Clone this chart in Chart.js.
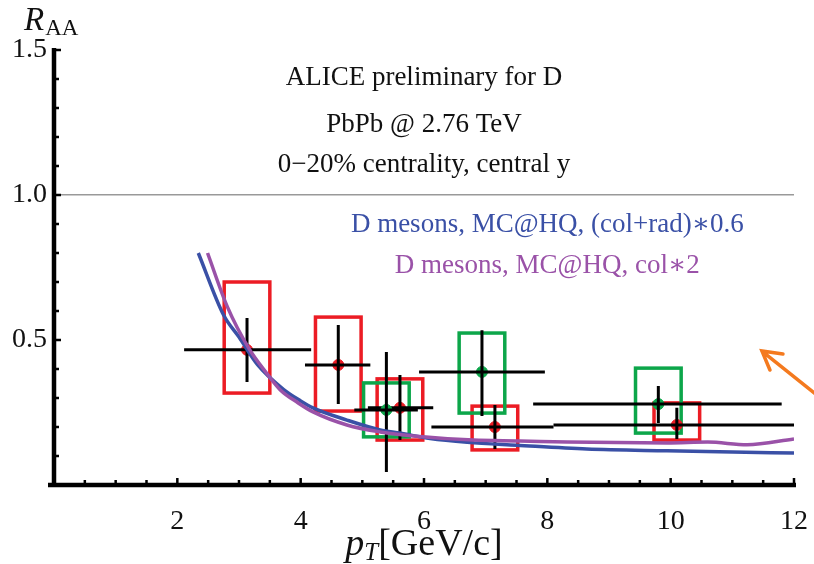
<!DOCTYPE html>
<html>
<head>
<meta charset="utf-8">
<script src="https://cdn.jsdelivr.net/npm/chart.js@4"></script>
<style>
  html, body { margin: 0; padding: 0; background: #fff; }
  #wrap { width: 814px; height: 564px; }
</style>
</head>
<body>
<div id="wrap"><canvas id="raaChart"></canvas></div>
<script>
// tick labels
const X_TICKS = [2, 4, 6, 8, 10, 12]
const Y_TICKS = [0.5, 1.0, 1.5]

// ALICE preliminary, D0 (red)
const redPt = [3.13, 4.61, 5.61, 7.15, 10.1]
const redRaa = [0.466, 0.414, 0.266, 0.200, 0.207]
const redPtLo = [2.11, 4.07, 5.09, 6.12, 8.10]
const redPtHi = [4.17, 5.13, 6.15, 8.10, 12.0]
const redStatLo = [0.355, 0.279, 0.155, 0.124, 0.159]
const redStatHi = [0.576, 0.552, 0.379, 0.276, 0.266]
const redSysLo = [0.317, 0.255, 0.155, 0.121, 0.155]
const redSysHi = [0.700, 0.579, 0.366, 0.272, 0.283]

// ALICE preliminary, D+ (green)
const greenPt = [5.39, 6.94, 9.80]
const greenRaa = [0.259, 0.390, 0.279]
const greenPtLo = [4.87, 5.92, 7.77]
const greenPtHi = [5.90, 7.96, 11.8]
const greenStatLo = [0.045, 0.238, 0.214]
const greenStatHi = [0.459, 0.534, 0.341]
const greenSysLo = [0.166, 0.248, 0.179]
const greenSysHi = [0.352, 0.524, 0.403]

// MC@HQ (col+rad)*0.6
const blueCurvePt = [2.34, 2.75, 3.0, 3.3, 3.72, 4.0, 4.2, 4.75, 5.29, 5.61, 6.1, 6.7, 7.5, 8.64, 9.94, 11.0, 12.0]
const blueCurveRaa = [0.800, 0.586, 0.510, 0.415, 0.330, 0.290, 0.266, 0.224, 0.190, 0.179, 0.160, 0.147, 0.137, 0.124, 0.118, 0.114, 0.110]

// MC@HQ col*2
const purpleCurvePt = [2.49, 2.81, 3.16, 3.45, 3.67, 3.96, 4.2, 4.75, 5.29, 5.83, 6.8, 7.56, 8.32, 9.94, 10.6, 11.24, 12.0]
const purpleCurveRaa = [0.800, 0.615, 0.471, 0.385, 0.328, 0.283, 0.252, 0.207, 0.183, 0.169, 0.155, 0.152, 0.148, 0.145, 0.148, 0.139, 0.159]

const COLORS = {
  red: '#ec1c24',
  green: '#0ca64a',
  blue: '#3a50a6',
  purple: '#9a52a8',
  black: '#000000',
  orange: '#f47a1f',
}

const SYS_HALF_WIDTH = 0.37
const SERIF = '"Liberation Serif", "DejaVu Serif", serif'

function toPoints(xs, ys) {
  return xs.map((x, i) => ({ x: x, y: ys[i] }))
}

function drawBoxes(ctx, xs, ys, pts, lo, hi, color) {
  ctx.strokeStyle = color
  pts.forEach((pt, i) => {
    const l = xs.getPixelForValue(pt - SYS_HALF_WIDTH)
    const r = xs.getPixelForValue(pt + SYS_HALF_WIDTH)
    const t = ys.getPixelForValue(hi[i])
    const b = ys.getPixelForValue(lo[i])
    ctx.strokeRect(l, t, r - l, b - t)
  })
}

function drawErrors(ctx, xs, ys, pts, raa, ptLo, ptHi, statLo, statHi) {
  ctx.strokeStyle = COLORS.black
  ctx.lineWidth = 3
  pts.forEach((pt, i) => {
    const px = xs.getPixelForValue(pt)
    const py = ys.getPixelForValue(raa[i])
    ctx.beginPath()
    ctx.moveTo(xs.getPixelForValue(ptLo[i]), py)
    ctx.lineTo(xs.getPixelForValue(ptHi[i]), py)
    ctx.moveTo(px, ys.getPixelForValue(statLo[i]))
    ctx.lineTo(px, ys.getPixelForValue(statHi[i]))
    ctx.stroke()
  })
}

// systematic boxes under everything, error bars right after the points
const boxesPlugin = {
  id: 'sysBoxes',
  beforeDatasetsDraw(chart) {
    const { ctx, scales: { x, y } } = chart
    ctx.save()
    ctx.lineWidth = 3.5
    drawBoxes(ctx, x, y, redPt, redSysLo, redSysHi, COLORS.red)
    drawBoxes(ctx, x, y, greenPt, greenSysLo, greenSysHi, COLORS.green)
    ctx.restore()
  },
  afterDatasetDraw(chart, args) {
    const { ctx, scales: { x, y } } = chart
    const label = args.meta.label
    ctx.save()
    if (label === 'D0') drawErrors(ctx, x, y, redPt, redRaa, redPtLo, redPtHi, redStatLo, redStatHi)
    if (label === 'D+') drawErrors(ctx, x, y, greenPt, greenRaa, greenPtLo, greenPtHi, greenStatLo, greenStatHi)
    ctx.restore()
  },
}

// frame, minor ticks, texts, arrow
const decorPlugin = {
  id: 'decor',
  afterDraw(chart) {
    const { ctx, chartArea, scales: { x, y } } = chart
    const left = chartArea.left
    const bottom = chartArea.bottom
    ctx.save()

    // axis lines
    ctx.strokeStyle = COLORS.black
    ctx.lineWidth = 4.5
    ctx.beginPath()
    ctx.moveTo(left, y.getPixelForValue(1.5) - 2)
    ctx.lineTo(left, bottom)
    ctx.moveTo(left - 6, bottom)
    ctx.lineTo(x.getPixelForValue(12) + 2, bottom)
    ctx.stroke()

    // inward ticks
    ctx.lineWidth = 2.5
    ctx.beginPath()
    for (let k = 1; k <= 15; k++) {
      const py = y.getPixelForValue(k / 10)
      const len = k % 5 === 0 ? 7 : 5
      ctx.moveTo(left, py)
      ctx.lineTo(left + len, py)
    }
    for (let k = 1; k <= 24; k++) {
      const px = x.getPixelForValue(k / 2)
      const len = k % 4 === 0 ? 7 : 5
      ctx.moveTo(px, bottom)
      ctx.lineTo(px, bottom - len)
    }
    ctx.stroke()

    // header text
    ctx.textAlign = 'center'
    ctx.textBaseline = 'alphabetic'
    ctx.font = '27px ' + SERIF
    ctx.fillStyle = '#111'
    const cx = x.getPixelForValue(6)
    ctx.fillText('ALICE preliminary for D', cx, 85)
    ctx.fillText('PbPb @ 2.76 TeV', cx, 132)
    ctx.fillText('0\u221220% centrality, central y', cx, 172)

    const lx = x.getPixelForValue(8)
    ctx.fillStyle = COLORS.blue
    ctx.fillText('D mesons, MC@HQ, (col+rad)\u22170.6', lx, 232)
    ctx.fillStyle = COLORS.purple
    ctx.fillText('D mesons, MC@HQ, col\u22172', lx, 273)

    // y axis title R_AA
    ctx.textAlign = 'left'
    ctx.fillStyle = '#111'
    ctx.font = 'italic 33px ' + SERIF
    ctx.fillText('R', left - 30, 30)
    const rw = ctx.measureText('R').width
    ctx.font = '23px ' + SERIF
    ctx.fillText('AA', left - 29 + rw, 35)

    // x axis title p_T[GeV/c]
    const big = 38
    const small = 25
    ctx.font = 'italic ' + big + 'px ' + SERIF
    const pw = ctx.measureText('p').width
    ctx.font = 'italic ' + small + 'px ' + SERIF
    const tw = ctx.measureText('T').width
    ctx.font = big + 'px ' + SERIF
    const gw = ctx.measureText('[GeV/c]').width
    let tx = cx - (pw + tw + gw) / 2
    const base = 555
    ctx.font = 'italic ' + big + 'px ' + SERIF
    ctx.fillText('p', tx, base)
    tx += pw
    ctx.font = 'italic ' + small + 'px ' + SERIF
    ctx.fillText('T', tx, base + 5)
    tx += tw
    ctx.font = big + 'px ' + SERIF
    ctx.fillText('[GeV/c]', tx, base)

    // orange arrow pointing to the curves
    const ax = x.getPixelForValue(11.48)
    const ay = y.getPixelForValue(0.462)
    ctx.strokeStyle = COLORS.orange
    ctx.lineWidth = 3.5
    ctx.lineCap = 'round'
    ctx.beginPath()
    ctx.moveTo(ax + 70, ay + 56)
    ctx.lineTo(ax, ay)
    ctx.moveTo(ax + 21, ay + 3)
    ctx.lineTo(ax, ay)
    ctx.lineTo(ax + 8, ay + 19)
    ctx.stroke()

    ctx.restore()
  },
}

const ctx = document.getElementById('raaChart').getContext('2d')
new Chart(ctx, {
  type: 'scatter',
  data: {
    datasets: [
      {
        label: 'MC@HQ col*2',
        type: 'line',
        data: toPoints(purpleCurvePt, purpleCurveRaa),
        borderColor: COLORS.purple,
        borderWidth: 3.5,
        pointRadius: 0,
        cubicInterpolationMode: 'monotone',
        fill: false,
        order: 0,
      },
      {
        label: 'MC@HQ (col+rad)*0.6',
        type: 'line',
        data: toPoints(blueCurvePt, blueCurveRaa),
        borderColor: COLORS.blue,
        borderWidth: 3.5,
        pointRadius: 0,
        cubicInterpolationMode: 'monotone',
        fill: false,
        order: 1,
      },
      {
        label: 'D+',
        data: toPoints(greenPt, greenRaa),
        backgroundColor: COLORS.green,
        borderColor: COLORS.green,
        pointRadius: 5.5,
        order: 2,
      },
      {
        label: 'D0',
        data: toPoints(redPt, redRaa),
        backgroundColor: COLORS.red,
        borderColor: COLORS.red,
        pointRadius: 5.5,
        order: 3,
      },
    ],
  },
  options: {
    responsive: true,
    maintainAspectRatio: false,
    animation: false,
    layout: { padding: { left: 0, right: 20, top: 50, bottom: 0 } },
    plugins: {
      legend: { display: false },
      tooltip: { enabled: false },
    },
    scales: {
      x: {
        type: 'linear',
        min: 0,
        max: 12,
        afterBuildTicks: (scale) => { scale.ticks = X_TICKS.map((v) => ({ value: v })) },
        afterFit: (scale) => {
          scale.height = 79
          scale.paddingLeft = 0
          scale.paddingRight = 0
        },
        grid: { display: false, drawTicks: false },
        border: { display: false },
        ticks: {
          autoSkip: false,
          maxRotation: 0,
          padding: 20,
          color: '#111',
          font: { family: SERIF, size: 28 },
          callback: (v) => String(v),
        },
      },
      y: {
        type: 'linear',
        min: 0,
        max: 1.5,
        afterBuildTicks: (scale) => { scale.ticks = Y_TICKS.map((v) => ({ value: v })) },
        afterFit: (scale) => {
          scale.width = 54
          scale.paddingTop = 0
          scale.paddingBottom = 0
        },
        grid: {
          drawTicks: false,
          lineWidth: 1.5,
          color: (c) => (c.tick && Math.abs(c.tick.value - 1) < 1e-6 ? '#999' : 'rgba(0,0,0,0)'),
        },
        border: { display: false },
        ticks: {
          padding: 7,
          color: '#111',
          font: { family: SERIF, size: 28 },
          callback: (v) => Number(v).toFixed(1),
        },
      },
    },
  },
  plugins: [boxesPlugin, decorPlugin],
})
</script>
</body>
</html>
